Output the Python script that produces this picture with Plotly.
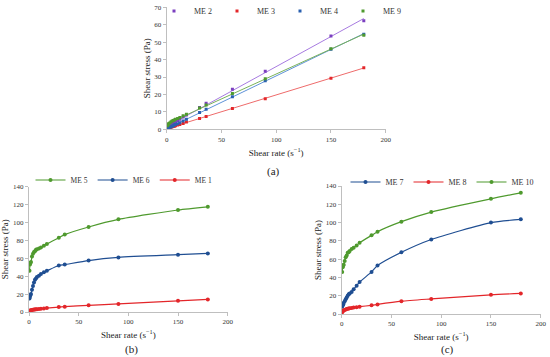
import numpy as np
import plotly.graph_objects as go

# ---------------- data ----------------
rate = [0.5, 1, 1.5, 2, 3, 4, 5, 6, 7, 8, 10, 12, 15, 18, 30, 36, 60, 90, 150, 180]

# (a)
me2 = [0.8, 1.2, 1.5, 1.8, 2.2, 2.6, 3.0, 3.4, 3.8, 4.2, 5.0, 5.8, 7.0, 8.2, 12.5, 15.0, 23.0, 33.3, 53.5, 62.3]
me3 = [0.3, 0.5, 0.6, 0.8, 1.0, 1.2, 1.4, 1.6, 1.8, 2.0, 2.4, 2.8, 3.3, 4.2, 6.2, 7.3, 12.0, 17.6, 29.3, 35.3]
me4 = [0.3, 0.5, 0.7, 0.9, 1.2, 1.5, 1.8, 2.1, 2.4, 2.7, 3.2, 3.8, 4.8, 5.8, 9.6, 11.5, 18.7, 27.8, 46.0, 54.5]
me9 = [2.0, 2.5, 2.9, 3.3, 3.8, 4.3, 4.7, 5.1, 5.4, 5.7, 6.2, 6.8, 7.8, 8.7, 12.2, 14.0, 20.5, 29.0, 46.2, 54.0]

# (b)
me5 = [46, 53, 55, 56, 62, 65, 67, 68, 69.5, 70, 71, 72, 74, 76, 83, 86.5, 95, 103.5, 114, 117.5]
me6 = [15, 17, 19, 20, 25, 29, 33, 36, 37.5, 39, 40.5, 42.5, 44.5, 46, 52, 53, 57.5, 61, 64, 65.5]
me1 = [1.0, 1.5, 1.8, 2.0, 2.3, 2.5, 2.7, 2.9, 3.0, 3.1, 3.4, 3.7, 4.0, 4.5, 5.5, 6.0, 7.5, 9.0, 12.5, 14.0]

# (c)
me7 = [8, 9.5, 10.5, 12, 14, 16, 18, 20, 21.5, 22.5, 24, 27, 31, 35, 46, 53, 67.5, 81.5, 100, 103.5]
me8 = [2, 3, 3.5, 4, 4.5, 5, 5.5, 5.8, 6.0, 6.2, 6.5, 7.0, 7.5, 8.0, 9.5, 10.5, 14, 16.5, 21, 22.5]
me10 = [46, 51, 53, 54, 58, 62, 64, 67, 67.5, 69, 71, 72.5, 75, 78, 86, 90, 101, 111.5, 126, 132.5]

x_ticks = [0, 50, 100, 150, 200]
ya_ticks = [0, 10, 20, 30, 40, 50, 60, 70]
ybc_ticks = [0, 20, 40, 60, 80, 100, 120, 140]

# ---------------- styles ----------------
FONT = "Liberation Serif"
C_PURPLE = "#7B3FBF"
C_PURPLE_L = "#A77BE0"
C_RED = "#E3262A"
C_RED_L = "#EE6B6B"
C_BLUE = "#2A60B0"
C_BLUE_L = "#5E92D8"
C_GREEN = "#4F9A2E"
C_GREEN_L = "#79B25A"
C_DBLUE = "#1F4E92"

W, H = 550, 357
def px(x):
    return x / W
def py(y):
    return 1 - y / H

fig = go.Figure()

# (a) markers + linear trend lines
xs = np.array(rate, dtype=float)
for name, ys, cm, cl in [("ME 2", me2, C_PURPLE, C_PURPLE_L),
                         ("ME 3", me3, C_RED, C_RED_L),
                         ("ME 4", me4, C_BLUE, C_BLUE_L),
                         ("ME 9", me9, C_GREEN, C_GREEN_L)]:
    coef = np.polyfit(xs, np.array(ys, dtype=float), 1)
    xl = np.array([0.0, 180.0])
    fig.add_trace(go.Scatter(x=xl, y=np.polyval(coef, xl), mode="lines",
                             line=dict(color=cl, width=1), showlegend=False,
                             xaxis="x", yaxis="y", hoverinfo="skip"))
    fig.add_trace(go.Scatter(x=rate, y=ys, mode="markers", name=name,
                             marker=dict(color=cm, size=3, symbol="square"),
                             xaxis="x", yaxis="y", legend="legend"))

# (b)
for name, ys, c in [("ME 5", me5, C_GREEN), ("ME 6", me6, C_DBLUE), ("ME 1", me1, C_RED)]:
    fig.add_trace(go.Scatter(x=rate, y=ys, mode="lines+markers", name=name,
                             line=dict(color=c, width=1.2, shape="spline", smoothing=0.6),
                             marker=dict(color=c, size=4),
                             xaxis="x2", yaxis="y2", legend="legend2"))

# (c)
for name, ys, c in [("ME 7", me7, C_DBLUE), ("ME 8", me8, C_RED), ("ME 10", me10, C_GREEN)]:
    fig.add_trace(go.Scatter(x=rate, y=ys, mode="lines+markers", name=name,
                             line=dict(color=c, width=1.2, shape="spline", smoothing=0.6),
                             marker=dict(color=c, size=4),
                             xaxis="x3", yaxis="y3", legend="legend3"))

axis_common = dict(showgrid=False, zeroline=False, showline=True, linecolor="#BFBFBF",
                   linewidth=1, ticks="outside", tickcolor="#BFBFBF", ticklen=3,
                   automargin=True,
                   tickfont=dict(family=FONT, size=7, color="#333333"))

title_font = dict(family=FONT, size=9, color="#222222")
legend_common = dict(orientation="h", xanchor="center", yanchor="middle",
                     bgcolor="rgba(0,0,0,0)", borderwidth=0, itemwidth=30)

def xtitle():
    return dict(text="Shear rate (s<sup>−1</sup>)", font=title_font, standoff=6)

def ytitle():
    return dict(text="Shear stress (Pa)", font=title_font, standoff=2)

fig.update_layout(
    width=W, height=H, margin=dict(l=0, r=0, t=0, b=0, autoexpand=False),
    paper_bgcolor="white", plot_bgcolor="white",
    font=dict(family=FONT),
    xaxis=dict(domain=[px(166.7), px(385.7)], range=[0, 200], tickvals=x_ticks,
               anchor="y", title=xtitle(), **axis_common),
    yaxis=dict(domain=[py(129.3), py(7.3)], range=[0, 70], tickvals=ya_ticks,
               anchor="x", title=ytitle(), **axis_common),
    xaxis2=dict(domain=[px(29), px(227.7)], range=[0, 200], tickvals=x_ticks,
                anchor="y2", title=xtitle(), **axis_common),
    yaxis2=dict(domain=[py(312), py(186.7)], range=[0, 140], tickvals=ybc_ticks,
                anchor="x2", title=ytitle(), **axis_common),
    xaxis3=dict(domain=[px(341.7), px(540.7)], range=[0, 200], tickvals=x_ticks,
                anchor="y3", title=xtitle(), **axis_common),
    yaxis3=dict(domain=[py(314), py(186)], range=[0, 140], tickvals=ybc_ticks,
                anchor="x3", title=ytitle(), **axis_common),
    legend=dict(x=px(280), y=py(11), font=dict(family=FONT, size=8, color="#333333"),
                **legend_common),
    legend2=dict(x=px(124), y=py(180), font=dict(family=FONT, size=7.5, color="#333333"),
                 **legend_common),
    legend3=dict(x=px(442), y=py(182), font=dict(family=FONT, size=8, color="#333333"),
                 **legend_common),
    annotations=[
        dict(text="(a)", x=px(273), y=py(171.7), xref="paper", yref="paper", showarrow=False,
             xanchor="center", yanchor="middle", font=dict(family=FONT, size=11, color="#222222")),
        dict(text="(b)", x=px(131.7), y=py(349.3), xref="paper", yref="paper", showarrow=False,
             xanchor="center", yanchor="middle", font=dict(family=FONT, size=11, color="#222222")),
        dict(text="(c)", x=px(447), y=py(349.3), xref="paper", yref="paper", showarrow=False,
             xanchor="center", yanchor="middle", font=dict(family=FONT, size=11, color="#222222")),
    ],
)

# remove the browser's default 8px body margin so the figure sits at the page's top-left corner
fig.write_html("out.html", config={"displayModeBar": False},
               post_script="document.body.style.margin='0px';")
